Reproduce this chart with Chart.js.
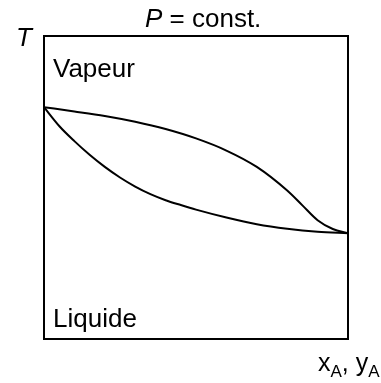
<!DOCTYPE html>
<html>
<head>
<meta charset="utf-8">
<script src="https://cdn.jsdelivr.net/npm/chart.js@4/dist/chart.umd.min.js"></script>
<style>
  html, body { margin: 0; padding: 0; background: #fff; }
  #wrap { width: 381px; height: 383px; position: relative; }
</style>
</head>
<body>
<div id="wrap"><canvas id="chart"></canvas></div>
<script>
// dew curve (vapour side), composition vs temperature
const dewX = [0, 0.1, 0.2, 0.3, 0.4, 0.5, 0.6, 0.7, 0.8, 0.85, 0.9, 0.95, 1];
const dewT = [76.5, 75.1, 73.6, 71.7, 69.3, 66.2, 62.2, 56.8, 49.0, 44.1, 39.2, 36.3, 34.9];

// bubble curve (liquid side)
const bubbleX = [0, 0.05, 0.1, 0.15, 0.2, 0.25, 0.3, 0.35, 0.4, 0.45, 0.5, 0.6, 0.7, 0.8, 0.9, 1];
const bubbleT = [76.5, 70.3, 65.3, 60.8, 56.8, 53.3, 50.3, 47.8, 45.8, 44.2, 42.7, 40.1, 37.9, 36.4, 35.4, 34.9];

const titleText = 'const.';
const regionLabels = ['Vapeur', 'Liquide'];

const FONT = '"Liberation Sans", Arial, sans-serif';

function toPoints(xs, ys) {
  return xs.map((x, i) => ({ x: x, y: ys[i] }));
}

// frame + free text around the plot
const annotate = {
  id: 'annotate',
  afterDraw(chart) {
    const ctx = chart.ctx;
    const a = chart.chartArea;
    ctx.save();
    ctx.strokeStyle = '#000';
    ctx.lineWidth = 2;
    ctx.strokeRect(a.left, a.top, a.right - a.left, a.bottom - a.top);

    ctx.fillStyle = '#000';
    ctx.textBaseline = 'alphabetic';
    ctx.textAlign = 'left';

    // title: italic P, then " = const."
    ctx.font = 'italic 26px ' + FONT;
    let x = 145;
    ctx.fillText('P', x, 27);
    x += ctx.measureText('P').width;
    ctx.font = '26px ' + FONT;
    ctx.fillText(' = ' + titleText, x, 27);

    // y axis symbol
    ctx.font = 'italic 26px ' + FONT;
    ctx.fillText('T', 16, 46);

    // phase regions
    ctx.font = '26px ' + FONT;
    ctx.fillText(regionLabels[0], a.left + 9, 77);
    ctx.fillText(regionLabels[1], a.left + 9, 327);

    // x axis label with subscripts
    const parts = [['x', false], ['A', true], [', ', false], ['y', false], ['A', true]];
    x = 318;
    for (const [t, sub] of parts) {
      ctx.font = (sub ? '17px ' : '25px ') + FONT;
      ctx.fillText(t, x, sub ? 377 : 371);
      x += ctx.measureText(t).width;
    }
    ctx.restore();
  }
};

const ctx = document.getElementById('chart').getContext('2d');
new Chart(ctx, {
  type: 'scatter',
  data: {
    datasets: [
      {
        data: toPoints(dewX, dewT),
        showLine: true,
        borderColor: '#000',
        borderWidth: 2,
        pointRadius: 0,
        cubicInterpolationMode: 'monotone',
        clip: false
      },
      {
        data: toPoints(bubbleX, bubbleT),
        showLine: true,
        borderColor: '#000',
        borderWidth: 2,
        pointRadius: 0,
        cubicInterpolationMode: 'monotone',
        clip: false
      }
    ]
  },
  options: {
    responsive: true,
    maintainAspectRatio: false,
    animation: false,
    events: [],
    plugins: {
      legend: { display: false },
      tooltip: { enabled: false }
    },
    scales: {
      x: { type: 'linear', min: 0, max: 1, display: false },
      y: { type: 'linear', min: 0, max: 100, display: false }
    },
    layout: {
      padding: { left: 44, right: 33, top: 36, bottom: 44 }
    }
  },
  plugins: [annotate]
});
</script>
</body>
</html>
